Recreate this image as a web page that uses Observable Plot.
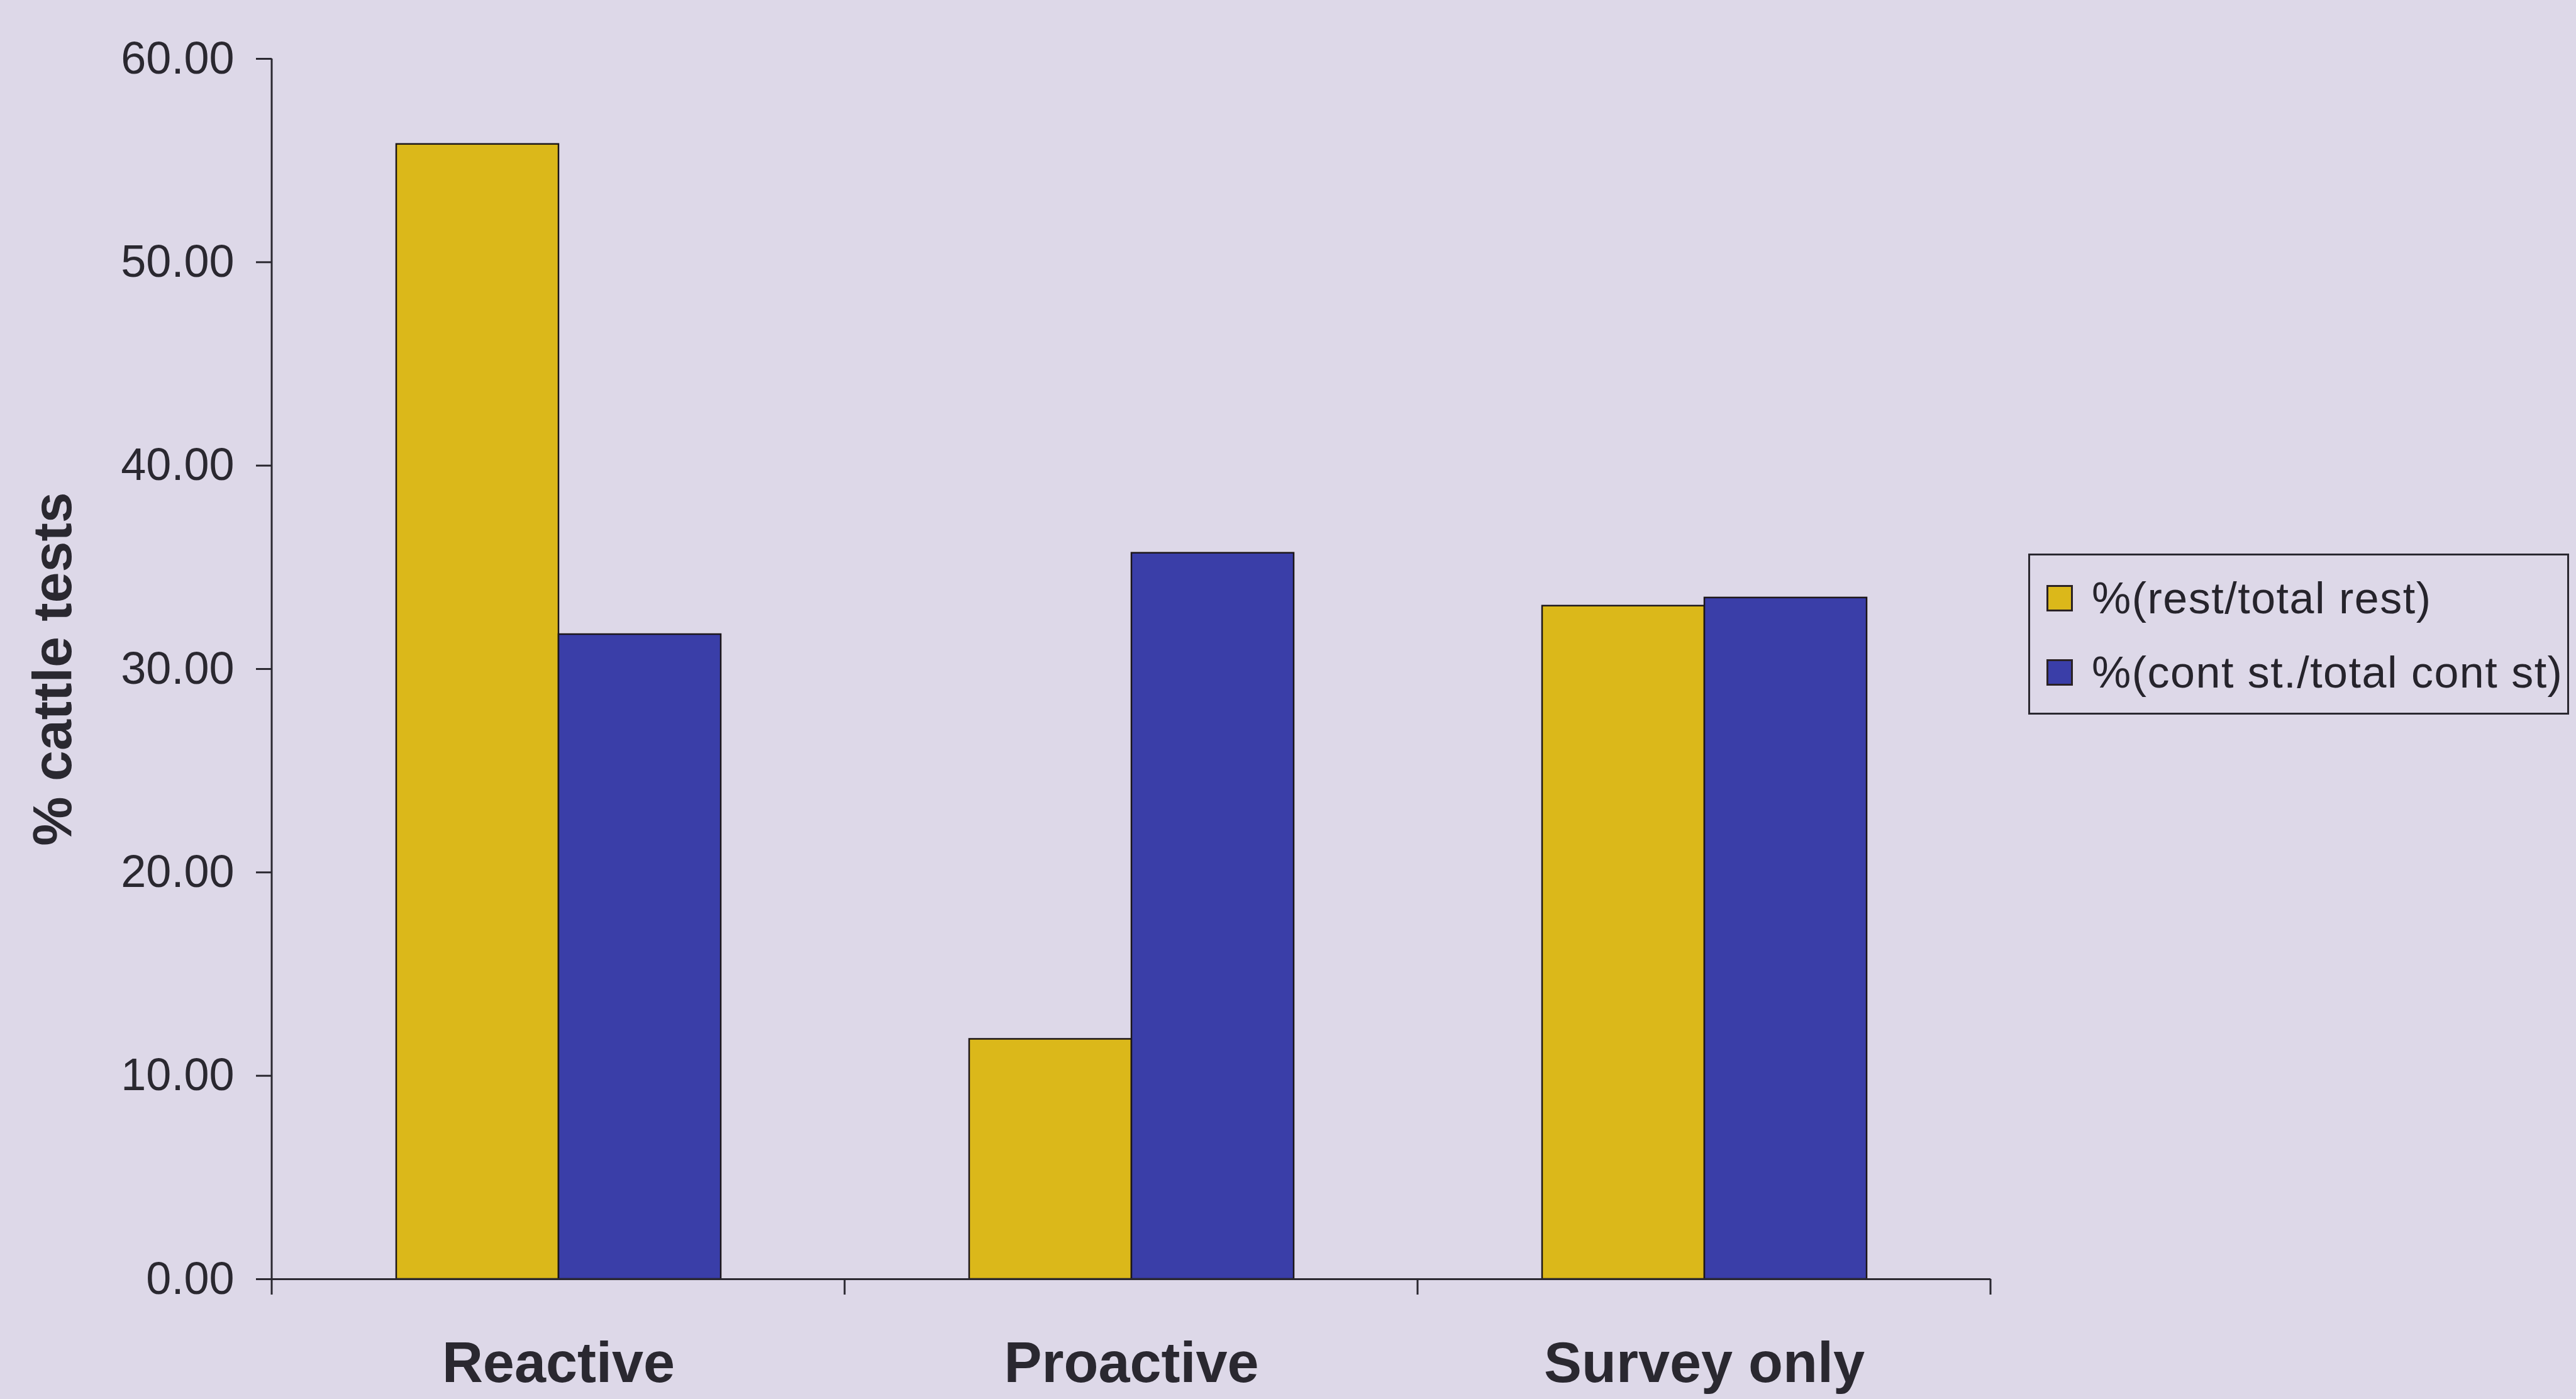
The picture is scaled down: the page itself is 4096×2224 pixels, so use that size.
<!DOCTYPE html>
<html>
<head>
<meta charset="utf-8">
<script src="https://cdn.jsdelivr.net/npm/d3@7"></script>
<script src="https://cdn.jsdelivr.net/npm/@observablehq/plot@0.6"></script>
<style>
  html, body { margin: 0; padding: 0; background: #ddd8e8; }
  #wrap {
    position: relative; width: 4096px; height: 2224px; overflow: hidden;
    background: #ddd8e8;
    font-family: "Liberation Sans", Arial, sans-serif; color: #26242c;
  }
  #chart svg { display: block; }
  #chart [aria-label="y-axis label"] text { font-size: 88px; font-weight: bold; }
  #chart [aria-label="fx-axis tick label"] text { font-size: 90px; font-weight: bold; }
  #legend {
    position: absolute; left: 3225px; top: 880px; width: 860px; height: 256px;
    box-sizing: border-box; border: 3px solid #2a2830;
  }
  .item { position: absolute; left: 26px; height: 60px; display: flex; align-items: center; }
  .swatch { width: 42px; height: 42px; box-sizing: border-box; border: 3px solid #2a2224; margin-right: 30px; }
  .item span { font-size: 70px; letter-spacing: 1.5px; white-space: nowrap; }
</style>
</head>
<body>
<div id="wrap">
  <div id="chart"></div>
  <div id="legend"></div>
</div>
<script>
// Share of cattle tests by trial area type
const categories = ["Reactive", "Proactive", "Survey only"];
const seriesNames = ["%(rest/total rest)", "%(cont st./total cont st)"];
const restShare = [55.8, 11.8, 33.1];
const contShare = [31.7, 35.7, 33.5];
const yTicks = [0, 10, 20, 30, 40, 50, 60];
const seriesColors = ["#dbb81a", "#3a3ea8"];

const rows = categories.flatMap((c, i) => [
  {category: c, series: seriesNames[0], value: restShare[i]},
  {category: c, series: seriesNames[1], value: contShare[i]}
]);

const ink = "#2a2830";

const chart = Plot.plot({
  width: 4096,
  height: 2224,
  marginLeft: 431,
  marginRight: 930,
  marginTop: 93,
  marginBottom: 191,
  style: {background: "transparent", fontFamily: "'Liberation Sans', Arial, sans-serif", color: ink},
  fx: {domain: categories, padding: 0, label: null},
  x: {domain: seriesNames, paddingInner: 0, paddingOuter: 0.76, axis: null},
  y: {domain: [0, 60]},
  color: {domain: seriesNames, range: seriesColors},
  marks: [
    Plot.barY(rows, {fx: "category", x: "series", y: "value", fill: "series", stroke: "#1c1618", strokeWidth: 2.5}),
    Plot.ruleY([0], {stroke: ink, strokeWidth: 3}),
    Plot.axisY({
      ticks: yTicks, tickFormat: (d) => d.toFixed(2), tickSize: 25, tickPadding: 35,
      fontSize: 72, strokeWidth: 3,
      label: "% cattle tests", labelAnchor: "center", labelArrow: "none", labelOffset: 382
    }),
    Plot.axisFx({anchor: "bottom", tickSize: 0, tickPadding: 100, fontSize: 90, fontWeight: "bold", label: null})
  ]
});

// y-axis spine and category boundary ticks on the baseline
const fxs = chart.scale("fx");
const ys = chart.scale("y");
const g = d3.select(chart).append("g").attr("stroke", ink).attr("stroke-width", 3);
const left = fxs.apply(categories[0]);
g.append("line")
  .attr("x1", left).attr("x2", left)
  .attr("y1", ys.apply(60)).attr("y2", ys.apply(0) + 25);
categories.forEach((c) => {
  const xe = fxs.apply(c) + fxs.bandwidth;
  g.append("line")
    .attr("x1", xe).attr("x2", xe)
    .attr("y1", ys.apply(0)).attr("y2", ys.apply(0) + 25);
});

document.getElementById("chart").append(chart);

// legend
const legend = d3.select("#legend");
seriesNames.forEach((name, i) => {
  const item = legend.append("div").attr("class", "item").style("top", (38 + i * 118) + "px");
  item.append("div").attr("class", "swatch").style("background", seriesColors[i]);
  item.append("span").text(name);
});
</script>
</body>
</html>
